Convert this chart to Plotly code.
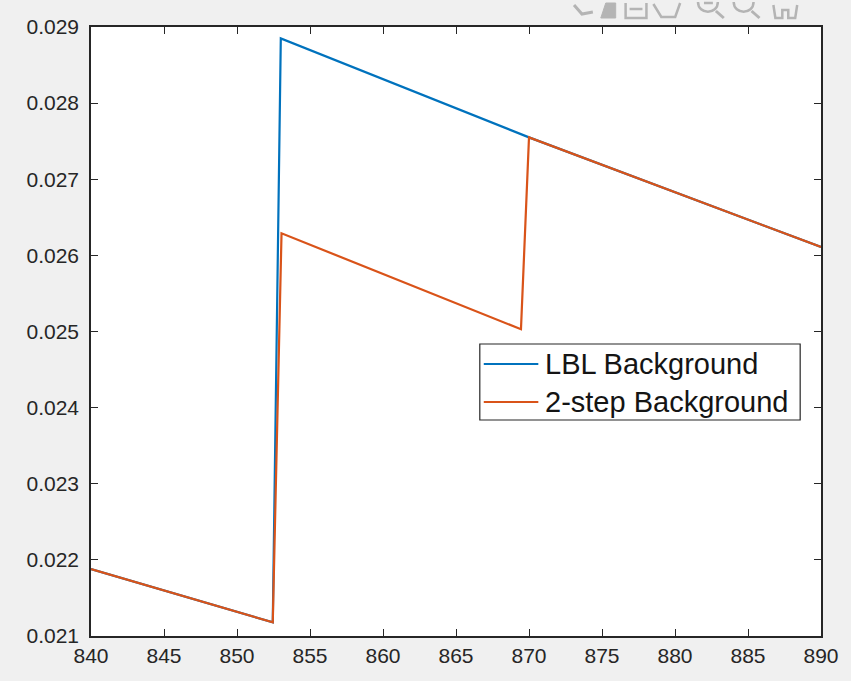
import plotly.graph_objects as go

# Background level traces (x in channel units, y in counts)
lbl_x = [840.0, 852.45, 853.0, 870.0, 890.0]
lbl_y = [0.02188, 0.02118, 0.02885, 0.02755, 0.02611]

two_step_x = [840.0, 852.45, 853.05, 869.45, 870.0, 890.0]
two_step_y = [0.02188, 0.02118, 0.02629, 0.02503, 0.02755, 0.02611]

series_names = ["LBL Background", "2-step Background"]

x_ticks = [840, 845, 850, 855, 860, 865, 870, 875, 880, 885, 890]
y_ticks = [0.021, 0.022, 0.023, 0.024, 0.025, 0.026, 0.027, 0.028, 0.029]

BLUE = "#0072BD"
ORANGE = "#D95319"
INK = "#262626"
ICON = "#b4b4b4"
FONT = "Liberation Sans, Arial, Helvetica, sans-serif"

W, H = 851, 681
L, R, T, B = 91, 24, 27, 45
pw = W - L - R
ph = H - T - B


def px_x(p):
    return (p - L) / pw


def px_y(p):
    return (H - B - p) / ph


def pt(x, y):
    return f"{px_x(x)},{px_y(y)}"


fig = go.Figure()
fig.add_trace(go.Scatter(x=lbl_x, y=lbl_y, mode="lines", name=series_names[0],
                         line=dict(color=BLUE, width=2.2), showlegend=False))
fig.add_trace(go.Scatter(x=two_step_x, y=two_step_y, mode="lines", name=series_names[1],
                         line=dict(color=ORANGE, width=2.2), showlegend=False))

axis_common = dict(
    showgrid=False, zeroline=False, showline=True, linecolor=INK, linewidth=1.5,
    mirror="ticks", ticks="inside", ticklen=7, tickwidth=1.2, tickcolor=INK,
    tickfont=dict(family=FONT, size=21, color=INK),
)


def seg(x0, y0, x1, y1, color, width):
    return dict(type="line", xref="paper", yref="paper",
                x0=px_x(x0), y0=px_y(y0), x1=px_x(x1), y1=px_y(y1),
                line=dict(color=color, width=width))


def path(d, width=2.5, fill=None):
    s = dict(type="path", xref="paper", yref="paper", path=d,
             line=dict(color=ICON, width=width))
    if fill:
        s["fillcolor"] = fill
    return s


def lens(cx):
    # lower part of a magnifier lens whose top is cut off by the window edge
    return path(f"M{pt(cx - 10, 2)} C{pt(cx - 10, 15)} {pt(cx + 10, 15)} {pt(cx + 10, 2)}")


shapes = [
    # legend box
    dict(type="rect", xref="paper", yref="paper",
         x0=px_x(483), x1=px_x(806), y0=px_y(420), y1=px_y(344),
         fillcolor="white", line=dict(color=INK, width=1.2)),
    seg(487, 364, 542, 364, BLUE, 2.2),
    seg(487, 402, 542, 402, ORANGE, 2.2),
    # axes toolbar icons (lower halves visible)
    path(f"M{pt(578, 5)} L{pt(586, 14)} L{pt(597, 12)}", width=3),
    path(f"M{pt(605, 18)} L{pt(610, 3)} L{pt(620, 3)} L{pt(620, 18)} Z", width=1, fill=ICON),
    path(f"M{pt(630, 3)} L{pt(630, 18)} L{pt(651, 18)} L{pt(651, 3)} "
         f"M{pt(634, 9)} L{pt(647, 9)}"),
    path(f"M{pt(658, 4)} L{pt(666, 17)} L{pt(680, 17)} L{pt(685, 3)}"),
    lens(713),
    seg(721, 11, 729, 18, ICON, 3),
    seg(709, 3, 718, 3, ICON, 2.5),
    lens(749),
    seg(757, 11, 765, 18, ICON, 3),
    path(f"M{pt(779, 5)} L{pt(781, 18)} L{pt(788, 18)} L{pt(788, 10)} L{pt(794, 10)} "
         f"L{pt(794, 18)} L{pt(801, 18)} L{pt(803, 5)}"),
]

annotations = [
    dict(xref="paper", yref="paper", x=px_x(547), y=px_y(364), xanchor="left",
         yanchor="middle", text=series_names[0], showarrow=False,
         font=dict(family=FONT, size=29, color="#141414")),
    dict(xref="paper", yref="paper", x=px_x(547), y=px_y(402), xanchor="left",
         yanchor="middle", text=series_names[1], showarrow=False,
         font=dict(family=FONT, size=29, color="#141414")),
]

fig.update_layout(
    width=W, height=H,
    margin=dict(l=L, r=R, t=T, b=B, pad=0),
    paper_bgcolor="#f0f0f0",
    plot_bgcolor="white",
    showlegend=False,
    xaxis=dict(range=[840, 890], tickvals=x_ticks, ticktext=[str(v) for v in x_ticks],
               ticklabelstandoff=0, **axis_common),
    yaxis=dict(range=[0.021, 0.029], tickvals=y_ticks,
               ticktext=[f"{v:.3f}" for v in y_ticks], ticklabelstandoff=6,
               **axis_common),
    shapes=shapes,
    annotations=annotations,
)

fig.write_html("out.html")
